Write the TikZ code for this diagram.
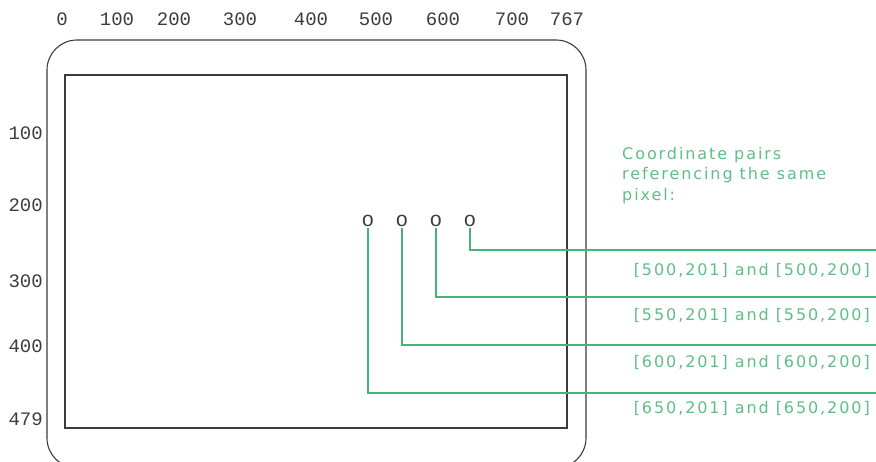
\documentclass[tikz,border=0pt]{standalone}
\usepackage{fontspec}
\setmainfont{DejaVu Sans}
\newfontfamily\axisfont{Liberation Mono}
\newfontfamily\notefont[LetterSpace=12]{DejaVu Sans}
\definecolor{linegreen}{RGB}{70,180,120}
\definecolor{textgreen}{RGB}{95,190,135}
\definecolor{framegray}{RGB}{60,60,60}
\tikzset{
  frame/.style={draw=framegray, line width=1.1pt},
  axislabel/.style={font=\axisfont\fontsize{19}{19}\selectfont, text=framegray, inner sep=0pt},
  pixmark/.style={font=\axisfont\fontsize{21}{21}\selectfont, text=framegray, inner sep=1pt},
  leader/.style={draw=linegreen, line width=2pt},
  pairlabel/.style={font=\notefont\fontsize{16}{16}\selectfont, text=textgreen, inner sep=0pt, anchor=east},
  note/.style={font=\notefont\fontsize{16}{20.5}\selectfont, text=textgreen, inner sep=0pt, anchor=north west, align=left}
}
\begin{document}
\begin{tikzpicture}[x=1pt,y=-1pt]
\useasboundingbox (0,0) rectangle (876,461);
% frames
\draw[frame, rounded corners=30pt] (47,40) rectangle (586,468);
\draw[frame] (65,75) rectangle (567,428);
% top axis labels
\foreach \t/\x in {0/62,100/117,200/174,300/240,400/311,500/376,600/443,700/512,767/567}
  \node[axislabel] (top\t) at (\x,19) {\t};
% left axis labels
\foreach \t/\y in {100/133,200/205,300/281,400/346,479/419}
  \node[axislabel, anchor=east] (left\t) at (43,\y) {\t};
% pixel marks
\node[pixmark] (p1) at (368,221) {o};
\node[pixmark] (p2) at (402,221) {o};
\node[pixmark] (p3) at (436,221) {o};
\node[pixmark] (p4) at (470,221) {o};
% leader ends
\coordinate (e4) at (876,250);
\coordinate (e3) at (876,297);
\coordinate (e2) at (876,345);
\coordinate (e1) at (876,393);
\draw[leader] (p4.south) |- (e4);
\draw[leader] (p3.south) |- (e3);
\draw[leader] (p2.south) |- (e2);
\draw[leader] (p1.south) |- (e1);
% labels
\node[pairlabel] (l4) at (870,270) {[500,201] and [500,200]};
\node[pairlabel] (l3) at (870,315) {[550,201] and [550,200]};
\node[pairlabel] (l2) at (870,362) {[600,201] and [600,200]};
\node[pairlabel] (l1) at (870,408) {[650,201] and [650,200]};
% note
\node[note] (note) at (622,147) {Coordinate pairs\\referencing the same\\pixel:};
\end{tikzpicture}
\end{document}
